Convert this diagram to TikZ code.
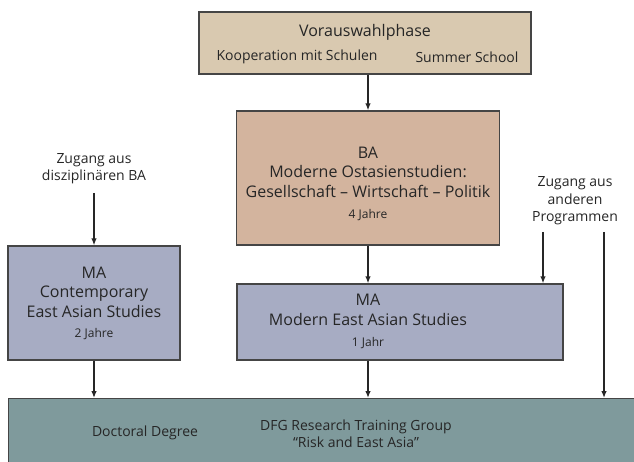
\documentclass[tikz,border=0pt]{standalone}
\usepackage{fontspec}
\setmainfont{Open Sans}
\usetikzlibrary{positioning, arrows.meta}

\definecolor{preTan}{HTML}{D9C9B0}
\definecolor{baTan}{HTML}{D3B49E}
\definecolor{maBlue}{HTML}{A7ACC3}
\definecolor{phdTeal}{HTML}{7F9A9C}
\definecolor{lineGray}{HTML}{454545}

\begin{document}
\begin{tikzpicture}[
  x=1pt, y=-1pt,
  every node/.style = {align=center, font=\fontsize{16}{19.5}\selectfont, text=black!85},
  box/.style = {draw=lineGray, line width=1.3pt, inner sep=0pt},
  small/.style = {font=\fontsize{14}{17.5}\selectfont},
  years/.style = {font=\fontsize{12}{14}\selectfont},
  arrow/.style = {-{Latex[length=7pt, width=5.5pt]}, line width=1.3pt, draw=black!85}
]
\clip (0,0) rectangle (634,462);

% --- Vorauswahl
\node[box, fill=preTan, minimum width=332pt, minimum height=62pt] (pre) at (365,43) {};
\node (preTitle) at (365,32) {Vorauswahlphase};
\node[small] (preLeft) at (297,57) {Kooperation mit Schulen};
\node[small] (preRight) at (467,57) {Summer School};

% --- BA
\node[box, fill=baTan, minimum width=263pt, minimum height=134pt] (ba) at (368,178) {};
\node (baText) at (368,172) {BA\\ Moderne Ostasienstudien:\\ Gesellschaft -- Wirtschaft -- Politik};
\node[years] (baYears) at (368,215) {4 Jahre};

% --- MA (links)
\node[box, fill=maBlue, minimum width=172pt, minimum height=114pt] (maCon) at (94,303) {};
\node (maConText) at (94,292) {MA\\ Contemporary\\ East Asian Studies};
\node[years] (maConYears) at (94,334) {2 Jahre};

% --- MA (Mitte)
\node[box, fill=maBlue, minimum width=326pt, minimum height=76pt] (maMod) at (400,322) {};
\node (maModText) at (368,310) {MA\\ Modern East Asian Studies};
\node[years] (maModYears) at (368,343) {1 Jahr};

% --- Promotion
\node[box, fill=phdTeal, minimum width=632pt, minimum height=70pt, anchor=north west] (phd) at (8,398) {};
\node[small] (phdDoc) at (145,433) {Doctoral Degree};
\node[small, font=\fontsize{14}{17}\selectfont] (phdDfg) at (356,433.5) {DFG Research Training Group\\ ``Risk and East Asia''};

% --- Zugaenge
\node[small] (inDis) at (94,168.5) {Zugang aus\\ disziplinären BA};
\node[small] (inOther) at (575,201) {Zugang aus\\ anderen\\ Programmen};
\coordinate (inDisEnd) at (94,193);
\coordinate (inOtherA) at (543,232);
\coordinate (inOtherB) at (604,232);

% --- Pfeile
\draw[arrow] (pre.south -| ba.north) -- (ba.north);
\draw[arrow] (ba.south) -- (ba.south |- maMod.north);
\draw[arrow] (inDisEnd) -- (inDisEnd |- maCon.north);
\draw[arrow] (inOtherA) -- (inOtherA |- maMod.north);
\draw[arrow] (inOtherB) -- (inOtherB |- phd.north);
\draw[arrow] (maCon.south) -- (maCon.south |- phd.north);
\draw[arrow] (maModText |- maMod.south) -- (maModText |- phd.north);

\end{tikzpicture}
\end{document}
